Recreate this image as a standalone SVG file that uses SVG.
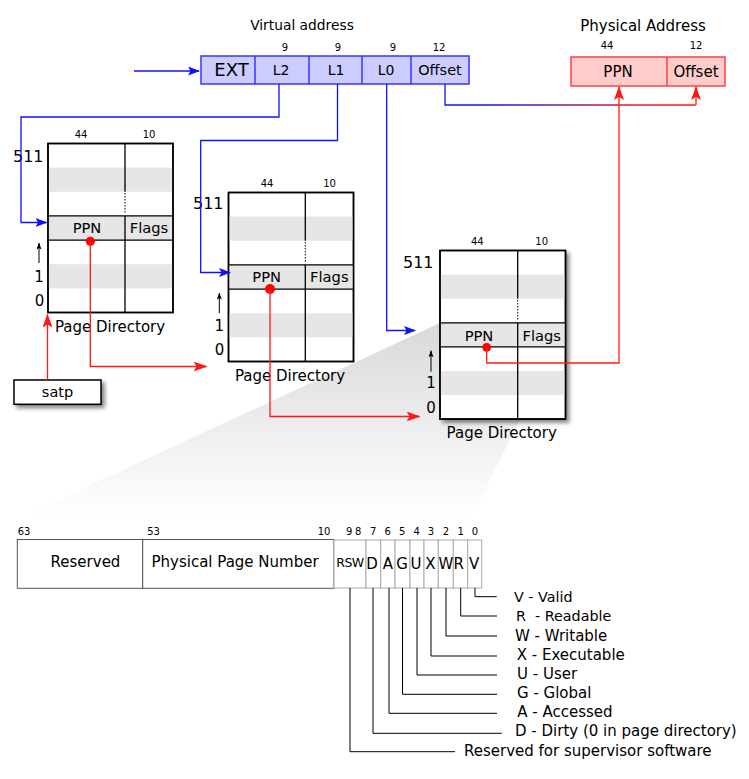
<svg xmlns="http://www.w3.org/2000/svg" width="749" height="779" viewBox="0 0 749 779">
<style>
text{font-family:"DejaVu Sans","Liberation Sans",sans-serif;fill:#000}
.c{text-anchor:middle}
.e{text-anchor:end}
.s10{font-size:10px}
.s14{font-size:14px}
.s15{font-size:15px}
.blk{fill:none;stroke:#000;stroke-width:1.3}
.band{fill:#e6e6e6;stroke:none}
.dir{fill:#fff;stroke:#000;stroke-width:1.5}
.va{fill:#ccccff;stroke:#3636ff;stroke-width:1.5}
.pa{fill:#ffcccc;stroke:#ff4040;stroke-width:1.5}
.bl{fill:none;stroke:#1010ff;stroke-width:1.3}
.rd{fill:none;stroke:#ff1a1a;stroke-width:1.3}
.bit{fill:#fff;stroke:#aaa;stroke-width:1}
.lead{fill:none;stroke:#000;stroke-width:1}
.pre{white-space:pre}
</style>
<defs>
<marker id="ab" viewBox="0 0 12 9" refX="11" refY="4.5" markerWidth="12" markerHeight="9" markerUnits="userSpaceOnUse" orient="auto"><path d="M0,0 L12,4.5 L0,9 L2.5,4.5 z" fill="#1010ff"/></marker>
<marker id="ar" viewBox="0 0 14 10" refX="13" refY="5" markerWidth="14" markerHeight="10" markerUnits="userSpaceOnUse" orient="auto"><path d="M0,0 L14,5 L0,10 L3,5 z" fill="#ff1a1a"/></marker>
<marker id="ak" viewBox="0 0 7 5" refX="6.5" refY="2.5" markerWidth="7" markerHeight="5" markerUnits="userSpaceOnUse" orient="auto"><path d="M0,0 L7,2.5 L0,5 L1.5,2.5 z" fill="#000"/></marker>
<linearGradient id="wedge" gradientUnits="userSpaceOnUse" x1="0" y1="323" x2="0" y2="516"><stop offset="0" stop-color="#d9d9d9"/><stop offset="1" stop-color="#ffffff"/></linearGradient>
<linearGradient id="br" gradientUnits="userSpaceOnUse" x1="480" y1="0" x2="650" y2="0"><stop offset="0" stop-color="#1010ff"/><stop offset="1" stop-color="#ff1a1a"/></linearGradient>
<filter id="sh" x="-20%" y="-20%" width="150%" height="150%"><feGaussianBlur in="SourceAlpha" stdDeviation="2"/><feOffset dx="3" dy="3" result="b"/><feComponentTransfer><feFuncA type="linear" slope="0.5"/></feComponentTransfer><feMerge><feMergeNode/><feMergeNode in="SourceGraphic"/></feMerge></filter>
</defs>

<polygon id="zoom-wedge" points="440,323 556,347 472,516 24,516" fill="url(#wedge)"/>

<g id="virtual-address">
<text class="c" x="302" y="30" style="font-size:13.8px">Virtual address</text>
<rect class="va" x="201" y="56" width="268" height="28"/>
<path d="M255,56V84M309,56V84M362,56V84M411,56V84" stroke="#3636ff" stroke-width="1.5"/>
<text class="c" x="231.5" y="76" style="font-size:18px">EXT</text>
<text class="c s14" x="281" y="75">L2</text>
<text class="c s14" x="336" y="75">L1</text>
<text class="c s14" x="386" y="75">L0</text>
<text class="c" x="440" y="75" style="font-size:14.5px">Offset</text>
<text class="c s10" x="285" y="51">9</text>
<text class="c s10" x="338" y="51">9</text>
<text class="c s10" x="393" y="51">9</text>
<text class="c s10" x="439" y="51">12</text>
</g>

<g id="physical-address">
<text class="c s15" x="643" y="30.5">Physical Address</text>
<rect class="pa" x="571" y="57" width="154" height="29"/>
<path d="M667,57V86" stroke="#ff4040" stroke-width="1.5"/>
<text class="c s15" x="618" y="76.5">PPN</text>
<text class="c s15" x="696" y="76.5">Offset</text>
<text class="c s10" x="607" y="49">44</text>
<text class="c s10" x="696" y="49">12</text>
</g>

<g id="page-directory-1">
<rect class="dir" x="48" y="143.5" width="125" height="169"/>
<rect class="band" x="48.7" y="167.6" width="123.6" height="24.2"/>
<rect class="band" x="48.7" y="215.9" width="123.6" height="24.2"/>
<rect class="band" x="48.7" y="264.2" width="123.6" height="24.2"/>
<path class="blk" d="M48,215.9H173M48,240.1H173M125,143.5V191.8M125,215.9V312.5"/>
<path d="M125,193V214" stroke="#000" stroke-width="1" stroke-dasharray="1.5,1.5"/>
<rect x="48" y="143.5" width="125" height="169" fill="none" stroke="#000" stroke-width="1.5"/>
<text class="c s10" x="81" y="138">44</text>
<text class="c s10" x="149" y="138">10</text>
<text class="e" x="43.5" y="161.5" style="font-size:16px">511</text>
<text class="c s15" x="39" y="281.5">1</text>
<text class="c s15" x="39.5" y="306">0</text>
<line x1="39" y1="263" x2="39" y2="243" stroke="#000" stroke-width="1" marker-end="url(#ak)"/>
<text class="c" x="87" y="233.3" style="font-size:14.7px">PPN</text>
<text class="c" x="149" y="233.3" style="font-size:14.7px">Flags</text>
<text class="c s15" x="110" y="331.5">Page Directory</text>
<circle cx="90.3" cy="241.3" r="4.6" fill="#ff0000"/>
</g>

<g id="page-directory-2">
<rect class="dir" x="228.5" y="192.5" width="125" height="169"/>
<rect class="band" x="229.2" y="216.6" width="123.6" height="24.2"/>
<rect class="band" x="229.2" y="264.9" width="123.6" height="24.2"/>
<rect class="band" x="229.2" y="313.2" width="123.6" height="24.2"/>
<path class="blk" d="M228.5,264.9H353.5M228.5,289.1H353.5M305.3,192.5V240.8M305.3,264.9V361.5"/>
<path d="M305.3,242V263" stroke="#000" stroke-width="1" stroke-dasharray="1.5,1.5"/>
<rect x="228.5" y="192.5" width="125" height="169" fill="none" stroke="#000" stroke-width="1.5"/>
<text class="c s10" x="267" y="186.7">44</text>
<text class="c s10" x="329.5" y="186.7">10</text>
<text class="e" x="223.5" y="209.3" style="font-size:16px">511</text>
<text class="c s15" x="219.3" y="331">1</text>
<text class="c s15" x="219.5" y="355">0</text>
<line x1="219.3" y1="313" x2="219.3" y2="293" stroke="#000" stroke-width="1" marker-end="url(#ak)"/>
<text class="c" x="266.7" y="282.3" style="font-size:14.7px">PPN</text>
<text class="c" x="329.3" y="282.3" style="font-size:14.7px">Flags</text>
<text class="c s15" x="290" y="381">Page Directory</text>
<circle cx="270" cy="289" r="5" fill="#ff0000"/>
</g>

<g id="page-directory-3">
<rect class="dir" x="440" y="250.5" width="125.5" height="168.5" filter="url(#sh)"/>
<rect class="band" x="440.7" y="274.6" width="124.1" height="24.1"/>
<rect class="band" x="440.7" y="322.8" width="124.1" height="24.1"/>
<rect class="band" x="440.7" y="371" width="124.1" height="24.1"/>
<path class="blk" d="M440,322.8H565.5M440,346.9H565.5M517.7,250.5V298.7M517.7,322.8V419"/>
<path d="M517.7,300V321" stroke="#000" stroke-width="1" stroke-dasharray="1.5,1.5"/>
<rect x="440" y="250.5" width="125.5" height="168.5" fill="none" stroke="#000" stroke-width="1.5"/>
<text class="c s10" x="477.3" y="245">44</text>
<text class="c s10" x="541.7" y="245">10</text>
<text class="e" x="433.5" y="268.3" style="font-size:16px">511</text>
<text class="c s15" x="431" y="388.3">1</text>
<text class="c s15" x="431" y="412.7">0</text>
<line x1="431" y1="371.7" x2="431" y2="350.7" stroke="#000" stroke-width="1" marker-end="url(#ak)"/>
<text class="c" x="479" y="340.7" style="font-size:14.7px">PPN</text>
<text class="c" x="541.7" y="340.7" style="font-size:14.7px">Flags</text>
<text class="c s15" x="501.7" y="438.3">Page Directory</text>
<circle cx="486.7" cy="347.3" r="4.4" fill="#ff0000"/>
</g>

<g id="satp">
<rect x="14" y="380" width="87" height="24.3" fill="#fff" stroke="#000" stroke-width="1.5" filter="url(#sh)"/>
<text class="c" x="57.5" y="396.8" style="font-size:14.5px">satp</text>
</g>

<g id="connectors">
<path class="bl" d="M134,71H199" marker-end="url(#ab)"/>
<path class="bl" d="M279,84V117H21V222.5H46.5" marker-end="url(#ab)"/>
<path class="bl" d="M337.5,84V140.5H200.7V272.5H230" marker-end="url(#ab)"/>
<path class="bl" d="M386.7,84V330.5H415" marker-end="url(#ab)"/>
<path d="M445,84V105H696" fill="none" stroke="url(#br)" stroke-width="1.3"/>
<path class="rd" d="M696,105V87" marker-end="url(#ar)"/>
<path class="rd" d="M47.5,380V314.5" marker-end="url(#ar)"/>
<path class="rd" d="M90.3,241.3V366.5H206.5" marker-end="url(#ar)"/>
<path class="rd" d="M270,289V416.5H419.5" marker-end="url(#ar)"/>
<path class="rd" d="M486.7,347.3V363H619V87" marker-end="url(#ar)"/>
</g>

<g id="page-table-entry">
<rect x="17.3" y="539.5" width="125.4" height="48.8" fill="#fff" stroke="#555" stroke-width="1"/>
<rect x="142.7" y="539.5" width="191.3" height="48.8" fill="#fff" stroke="#555" stroke-width="1"/>
<rect class="bit" x="334" y="540" width="32" height="48"/>
<rect class="bit" x="366" y="540" width="14.7" height="48"/>
<rect class="bit" x="380.7" y="540" width="14.3" height="48"/>
<rect class="bit" x="395" y="540" width="15" height="48"/>
<rect class="bit" x="410" y="540" width="14" height="48"/>
<rect class="bit" x="424" y="540" width="14.3" height="48"/>
<rect class="bit" x="438.3" y="540" width="15" height="48"/>
<rect class="bit" x="453.3" y="540" width="14.4" height="48"/>
<rect class="bit" x="467.7" y="540" width="14" height="48"/>
<text class="c s10" x="24" y="535">63</text>
<text class="c s10" x="153.5" y="535">53</text>
<text class="c s10" x="324" y="535">10</text>
<text class="c s10" x="349.3" y="535">9</text>
<text class="c s10" x="358.3" y="535">8</text>
<text class="c s10" x="373.3" y="535">7</text>
<text class="c s10" x="387.7" y="535">6</text>
<text class="c s10" x="402.3" y="535">5</text>
<text class="c s10" x="416.7" y="535">4</text>
<text class="c s10" x="431" y="535">3</text>
<text class="c s10" x="446" y="535">2</text>
<text class="c s10" x="460.7" y="535">1</text>
<text class="c s10" x="475" y="535">0</text>
<text class="c s15" x="85.5" y="567">Reserved</text>
<text class="s15" x="151.5" y="567">Physical Page Number</text>
<text class="c" x="350" y="566.7" style="font-size:12.5px;letter-spacing:-0.5px">RSW</text>
<text class="c s15" x="372" y="569.3">D</text>
<text class="c s15" x="388" y="569.3">A</text>
<text class="c s15" x="402" y="569.3">G</text>
<text class="c s15" x="416" y="569.3">U</text>
<text class="c s15" x="430.3" y="569.3">X</text>
<text class="c s15" x="445.8" y="569.3">W</text>
<text class="c s15" x="458.7" y="569.3">R</text>
<text class="c s15" x="474.2" y="569.3">V</text>
</g>

<g id="bit-legend">
<path class="lead" d="M475,588V596.7H496.7M460.7,588V616H497M446,588V636H497M431,588V656H497M417,588V675H497M402.5,588V694.3H497M389,588V713.3H497M373,588V733.3H501.7M350,588V751.7H455"/>
<text x="514" y="601.7" style="font-size:14.3px">V - Valid</text>
<text class="pre" x="516" y="620.7" style="font-size:14.3px">R  - Readable</text>
<text class="s15" x="515" y="640.5">W - Writable</text>
<text class="s15" x="516.7" y="660">X - Executable</text>
<text class="s15" x="517" y="679.3">U - User</text>
<text class="s15" x="517" y="698.3">G - Global</text>
<text class="s15" x="517.3" y="717.3">A - Accessed</text>
<text class="s15" x="515" y="736.3">D - Dirty (0 in page directory)</text>
<text class="s15" x="464" y="755.7">Reserved for supervisor software</text>
</g>
</svg>
